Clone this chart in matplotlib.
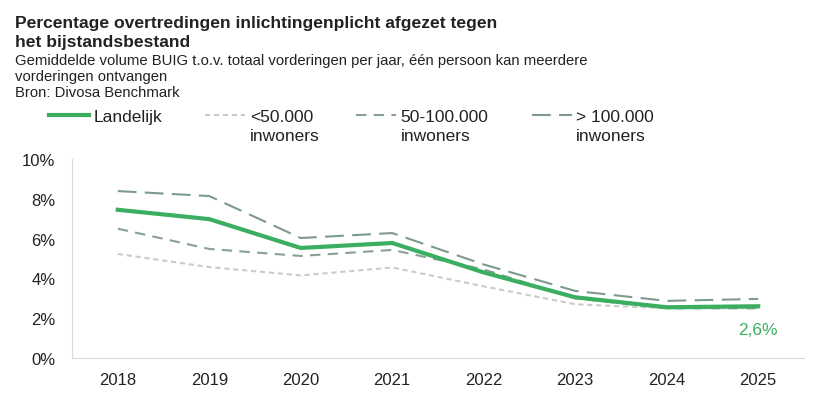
import matplotlib
matplotlib.use("Agg")
from matplotlib import pyplot as plt
from matplotlib.ticker import FuncFormatter

plt.rcParams['font.family'] = ['Liberation Sans', 'DejaVu Sans']

years = ['2018', '2019', '2020', '2021', '2022', '2023', '2024', '2025']
landelijk = [7.45, 6.98, 5.53, 5.78, 4.3, 3.05, 2.55, 2.6]
klein = [5.23, 4.57, 4.15, 4.55, 3.6, 2.7, 2.5, 2.5]
middel = [6.5, 5.48, 5.13, 5.43, 4.45, 3.0, 2.5, 2.5]
groot = [8.39, 8.14, 6.03, 6.28, 4.7, 3.37, 2.87, 2.97]
labels = ['Landelijk', '<50.000', '50-100.000', '> 100.000']
labels_line2 = ['', 'inwoners', 'inwoners', 'inwoners']

green = '#3cae61'
W, H = 825, 406
fig = plt.figure(figsize=(W / 100, H / 100), dpi=100)
ax = fig.add_axes([0.0873, 0.1158, 0.8872, 0.490])

x = list(range(len(years)))
l1, = ax.plot(x, landelijk, color=green, linewidth=3, zorder=4)
l2, = ax.plot(x, klein, color='#c9cbc9', linewidth=1.5,
              dashes=(2.5, 1.8), zorder=3)
l3, = ax.plot(x, middel, color='#88a095', linewidth=1.5,
              dashes=(5, 3.5), zorder=3)
l4, = ax.plot(x, groot, color='#7e9a8c', linewidth=1.5,
              dashes=(9, 4), zorder=3)

ax.annotate('2,6%', (x[-1], landelijk[-1]), xytext=(0, -11),
            textcoords='offset points', ha='center', va='top',
            color=green, fontsize=12.5)

ax.set_xlim(-0.5, len(years) - 0.5)
ax.set_ylim(0, 10)
ax.set_yticks([0, 2, 4, 6, 8, 10])
ax.yaxis.set_major_formatter(FuncFormatter(lambda v, p: f"{v:.0f}%"))
ax.set_xticks(x)
ax.set_xticklabels(years)
ax.tick_params(axis='both', length=0, labelsize=12, colors='#222222')
ax.tick_params(axis='x', pad=10)
ax.tick_params(axis='y', pad=12)
for side in ['top', 'right']:
    ax.spines[side].set_visible(False)
for side in ['left', 'bottom']:
    ax.spines[side].set_color('#d9d9d9')

# title and subtitle, one text per line (baselines in pixels from top)
title_lines = ["Percentage overtredingen inlichtingenplicht afgezet tegen",
               "het bijstandsbestand"]
for txt, base in zip(title_lines, [28, 47]):
    fig.text(15 / W, 1 - base / H, txt, fontsize=12.6, fontweight='bold',
             va='baseline', color='#222222')
sub_lines = ["Gemiddelde volume BUIG t.o.v. totaal vorderingen per jaar, "
             "één persoon kan meerdere",
             "vorderingen ontvangen",
             "Bron: Divosa Benchmark"]
for txt, base in zip(sub_lines, [65, 81, 97]):
    fig.text(15 / W, 1 - base / H, txt, fontsize=10.7, va='baseline',
             color='#222222')

leg = fig.legend([l1, l2, l3, l4], labels, ncol=4, loc='center left',
                 bbox_to_anchor=(49 / W, 1 - 117 / H), frameon=False,
                 fontsize=12.5, handlelength=2.3, handletextpad=0.25,
                 columnspacing=2.5, borderaxespad=0, borderpad=0,
                 labelcolor='#222222')

# second line of each legend label under the first one
fig.canvas.draw()
inv = fig.transFigure.inverted()
for t, extra in zip(leg.get_texts(), labels_line2):
    if not extra:
        continue
    bb = t.get_window_extent()
    x0, y0 = inv.transform((bb.x0, bb.y0))
    fig.text(x0, y0 - 19 / H, extra, fontsize=12.5, va='bottom',
             color='#222222')

fig.savefig('out.png', dpi=100)
